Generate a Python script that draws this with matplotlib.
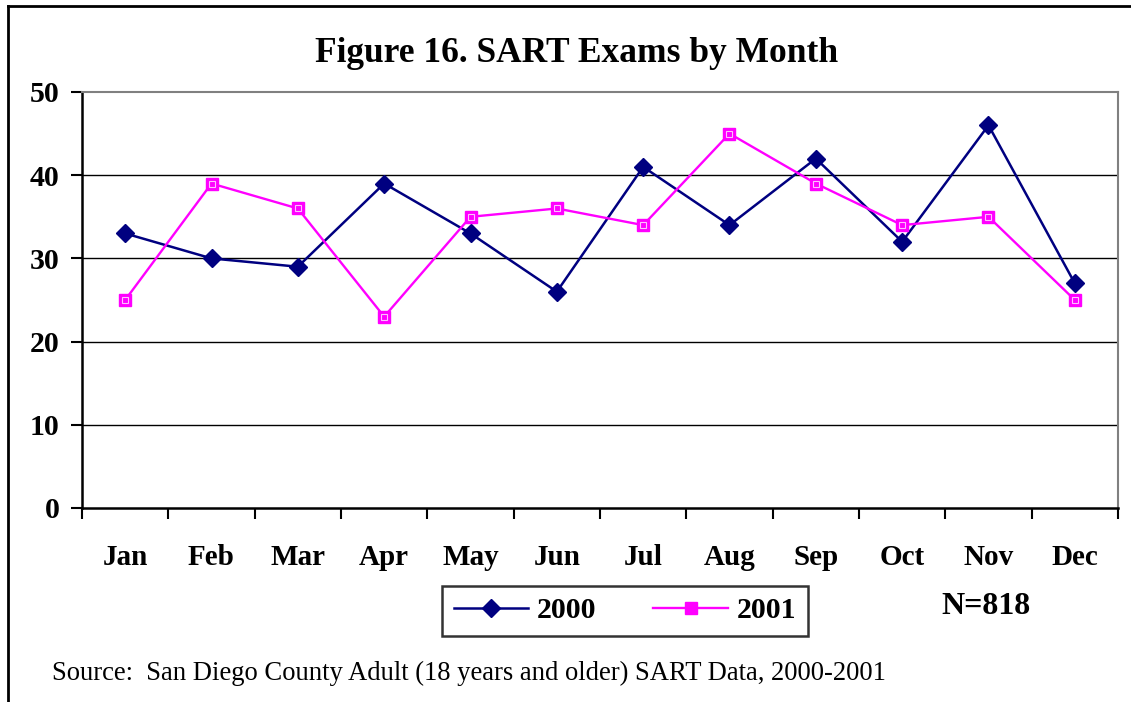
import matplotlib.pyplot as plt

months = ['Jan', 'Feb', 'Mar', 'Apr', 'May', 'Jun',
          'Jul', 'Aug', 'Sep', 'Oct', 'Nov', 'Dec']
exams_2000 = [33, 30, 29, 39, 33, 26, 41, 34, 42, 32, 46, 27]
exams_2001 = [25, 39, 36, 23, 35, 36, 34, 45, 39, 34, 35, 25]
y_ticks = [0, 10, 20, 30, 40, 50]

plt.rcParams['font.family'] = ['Liberation Serif', 'DejaVu Serif']

W, H = 1131, 702
fig = plt.figure(figsize=(W / 100, H / 100), dpi=100)
# plot area in pixel coordinates: left 82, right 1118, top 92, bottom 508
ax = fig.add_axes([82 / W, 1 - 508 / H, (1118 - 82) / W, (508 - 92) / H])

# outer chart border (only left and top visible in the reference)
fig.add_artist(plt.Line2D([8 / W, 8 / W], [0, 1 - 6 / H], transform=fig.transFigure,
                          color='black', lw=2))
fig.add_artist(plt.Line2D([8 / W, 1], [1 - 6 / H, 1 - 6 / H], transform=fig.transFigure,
                          color='black', lw=2))

x = list(range(len(months)))
l1, = ax.plot(x, exams_2000, color='#000080', lw=1.8, marker='D', markersize=9,
              markerfacecolor='#000080', markeredgecolor='#000080', label='2000')
l2, = ax.plot(x, exams_2001, color='#ff00ff', lw=1.7, marker='s', markersize=8.5,
              markerfacecolor='#ff00ff', markeredgecolor='#ff00ff', label='2001')
ax.plot(x, exams_2001, ls='none', marker='s', markersize=4.5,
        markerfacecolor='none', markeredgecolor='#ffc0ff', markeredgewidth=0.8)

ax.set_xlim(-0.5, len(months) - 0.5)
ax.set_ylim(0, 50)
ax.set_yticks(y_ticks)
ax.set_yticklabels([str(v) for v in y_ticks], fontsize=21.5, fontweight='bold')
ax.set_xticks([i + 0.5 for i in range(-1, len(months))])
ax.set_xticklabels([])
for i, m in enumerate(months):
    ax.text(i, -5.9, m, ha='center', va='center', fontsize=21, fontweight='bold')

for v in y_ticks[1:-1]:
    ax.axhline(v, color='black', lw=1, zorder=0)

ax.spines['left'].set_linewidth(1.8)
ax.spines['bottom'].set_linewidth(1.8)
ax.spines['top'].set_color('#808080')
ax.spines['right'].set_color('#808080')
ax.spines['top'].set_linewidth(1.5)
ax.spines['right'].set_linewidth(1.5)
ax.tick_params(axis='both', direction='out', length=8, width=1.5, pad=6)
ax.tick_params(axis='y', pad=8)

fig.text(577 / W, 1 - 54 / H, 'Figure 16. SART Exams by Month', ha='center', va='center',
         fontsize=25.5, fontweight='bold')

leg = fig.legend(handles=[l1, l2], loc='center', ncol=2,
                 bbox_to_anchor=(625 / W, 1 - 611 / H), frameon=True, fancybox=False,
                 prop={'size': 21.5, 'weight': 'bold'}, handlelength=2.5, columnspacing=1.9,
                 borderpad=0.4, handletextpad=0.3)
leg.get_frame().set_edgecolor('black')
leg.get_frame().set_linewidth(1.8)

fig.text(986 / W, 1 - 607 / H, 'N=818', ha='center', va='center',
         fontsize=23, fontweight='bold')
fig.text(52 / W, 1 - 673 / H, 'Source:  San Diego County Adult (18 years and older) SART Data, 2000-2001',
         ha='left', va='center', fontsize=19.2)

fig.savefig('out.png', dpi=100)
